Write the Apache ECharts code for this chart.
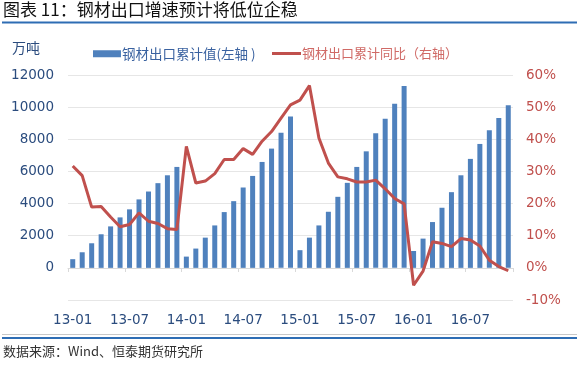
<!DOCTYPE html>
<html>
<head>
<meta charset="utf-8">
<script src="https://cdn.jsdelivr.net/npm/echarts@6/dist/echarts.min.js"></script>
<style>
html,body{margin:0;padding:0;background:#fff;}
#c{width:577px;height:365px;}
</style>
</head>
<body>
<div id="c"></div>
<script>
var categories = ['13-01','13-02','13-03','13-04','13-05','13-06','13-07','13-08','13-09','13-10','13-11','13-12',
'14-01','14-02','14-03','14-04','14-05','14-06','14-07','14-08','14-09','14-10','14-11','14-12',
'15-01','15-02','15-03','15-04','15-05','15-06','15-07','15-08','15-09','15-10','15-11','15-12',
'16-01','16-02','16-03','16-04','16-05','16-06','16-07','16-08','16-09','16-10','16-11'];
var exportCum = [540,970,1530,2090,2580,3140,3640,4260,4750,5270,5760,6280,
700,1200,1880,2640,3470,4150,5000,5720,6590,7420,8410,9420,
1100,1880,2640,3490,4420,5290,6280,7250,8370,9280,10210,11320,
1050,1820,2850,3740,4710,5760,6780,7710,8570,9320,10120];
var exportYoY = [31.7,28.7,18.9,19.1,15.8,12.8,13.5,17.1,14.5,13.8,12.2,11.9,
37.8,26.4,27.0,29.3,33.7,33.7,37.1,35.3,39.4,42.4,46.6,50.7,
52.2,56.7,40.4,32.6,28.3,27.7,26.7,26.7,27.3,24.6,21.6,19.9,
-5.4,-1.0,8.1,7.6,6.6,9.1,8.7,6.8,2.4,0.4,-0.9];
var seriesNames = ['钢材出口累计值(左轴 )','钢材出口累计同比（右轴）'];

var navy = '#2b4c7e';
var red = '#c0504d';
var blue = '#4f81bd';
var font = 'DejaVu Sans';

var chart = echarts.init(document.getElementById('c'), null, {renderer:'canvas'});
chart.setOption({
  animation:false,
  backgroundColor:'#fff',
  grid:{left:68,right:64,top:75,bottom:65},
  legend:[
    {data:[{name:seriesNames[0],textStyle:{color:'#3a62a0'}}],left:88,top:42,icon:'rect',itemWidth:28,itemHeight:7,itemGap:4,
     textStyle:{fontFamily:'Noto Sans CJK SC',fontSize:13.5,padding:[0,0,0,-4]}},
    {data:[{name:seriesNames[1],textStyle:{color:'#d06a66'}}],left:267,top:42,icon:'rect',itemWidth:29,itemHeight:3,
     textStyle:{fontFamily:'Noto Sans CJK SC',fontSize:13,padding:[0,0,0,-4]}}
  ],
  xAxis:[
    {type:'category',data:categories,boundaryGap:true,position:'bottom',
     axisLine:{show:false,onZero:false},axisTick:{show:false},
     axisLabel:{interval:5,margin:13,color:navy,fontFamily:font,fontSize:13.5},
     splitLine:{show:false}},
    {type:'category',data:categories,boundaryGap:true,position:'bottom',offset:-32,
     axisLine:{show:true,onZero:false,lineStyle:{color:'#d9d9d9',width:1}},
     axisTick:{show:true,interval:5,length:4,lineStyle:{color:'#d9d9d9'}},
     axisLabel:{show:false},splitLine:{show:false}}
  ],
  yAxis:[
    {type:'value',min:-2000,max:12000,interval:2000,
     axisLine:{show:false},axisTick:{show:false},
     axisLabel:{margin:14,color:navy,fontFamily:font,fontSize:13.5,formatter:function(v){return v<0?'':String(v);}},
     splitLine:{lineStyle:{color:'#e6e6e6',width:1}}},
    {type:'value',min:-10,max:60,interval:10,
     axisLine:{show:false},axisTick:{show:false},
     axisLabel:{margin:13,color:red,fontFamily:font,fontSize:13.5,formatter:function(v){return v+'%';}},
     splitLine:{show:false}}
  ],
  series:[
    {name:seriesNames[0],type:'bar',data:exportCum,xAxisIndex:0,yAxisIndex:0,barWidth:5,itemStyle:{color:blue}},
    {name:seriesNames[1],type:'line',data:exportYoY,xAxisIndex:0,yAxisIndex:1,symbol:'none',lineStyle:{color:red,width:3},itemStyle:{color:red}}
  ],
  graphic:[
    {type:'text',left:3,top:1,style:{text:'图表 11：钢材出口增速预计将低位企稳',font:'17px "Noto Sans CJK SC"',fill:'#111'}},
    {type:'rect',shape:{x:2,y:21.5,width:575,height:2},style:{fill:'#2e6db4'}},
    {type:'text',left:12,top:41,style:{text:'万吨',font:'14px "Noto Sans CJK SC"',fill:navy}},
    {type:'rect',shape:{x:2,y:334,width:575,height:1},style:{fill:'#c8c8c8'}},
    {type:'rect',shape:{x:2,y:337,width:575,height:2},style:{fill:'#2e6db4'}},
    {type:'text',left:3,top:345,style:{text:'数据来源：Wind、恒泰期货研究所',font:'13px "Noto Sans CJK SC"',fill:'#333'}}
  ]
});
</script>
</body>
</html>
